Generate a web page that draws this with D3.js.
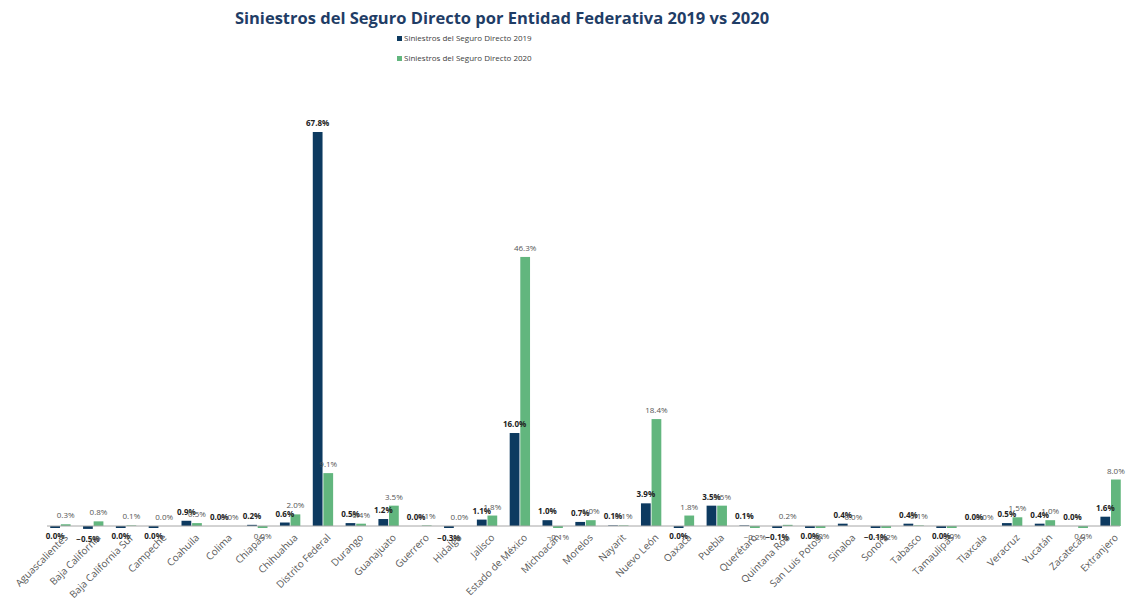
<!DOCTYPE html>
<html>
<head>
<meta charset="utf-8">
<script src="https://cdn.jsdelivr.net/npm/d3@7"></script>
<style>
  body { margin: 0; background: #fff; }
  text { font-family: "Open Sans", "DejaVu Sans", sans-serif; }
</style>
</head>
<body>
<script>
var width = 1127;
var height = 599;

var categories = ['Aguascalientes', 'Baja California', 'Baja California Sur', 'Campeche', 'Coahuila',
  'Colima', 'Chiapas', 'Chihuahua', 'Distrito Federal', 'Durango', 'Guanajuato', 'Guerrero',
  'Hidalgo', 'Jalisco', 'Estado de México', 'Michoacán', 'Morelos', 'Nayarit', 'Nuevo León',
  'Oaxaca', 'Puebla', 'Querétaro', 'Quintana Roo', 'San Luis Potosí', 'Sinaloa', 'Sonora',
  'Tabasco', 'Tamaulipas', 'Tlaxcala', 'Veracruz', 'Yucatán', 'Zacatecas', 'Extranjero'];

// percentages
var values2019 = [-0.04, -0.5, -0.04, -0.04, 0.9, 0.0, 0.2, 0.6, 67.8, 0.5, 1.2, 0.0,
  -0.3, 1.1, 16.0, 1.0, 0.7, 0.1, 3.9, -0.04, 3.5, 0.1, -0.1, -0.04, 0.4, -0.1,
  0.4, -0.04, 0.0, 0.5, 0.4, 0.0, 1.6];
var values2020 = [0.3, 0.8, 0.1, 0.0, 0.5, 0.0, -0.04, 2.0, 9.1, 0.4, 3.5, 0.1,
  0.0, 1.8, 46.3, -0.1, 1.0, 0.1, 18.4, 1.8, 3.5, -0.2, 0.2, -0.04, 0.0, -0.2,
  0.1, -0.04, 0.0, 1.5, 1.0, -0.04, 8.0];

var seriesNames = ['Siniestros del Seguro Directo 2019', 'Siniestros del Seguro Directo 2020'];
var colors = ['#0d3a60', '#62b67e'];

var svg = d3.select('body').append('svg').attr('width', width).attr('height', height);

var x = d3.scaleBand().domain(categories).range([44, 1127]).paddingInner(0.38).paddingOuter(0.19);
var x1 = d3.scaleBand().domain([0, 1]).range([0, x.bandwidth()]).paddingInner(0.08);
var y = d3.scaleLinear().domain([0, 67.8]).range([526, 132]);

var fmt = function(v) {
  var s = d3.format('.1f')(v);
  if (s === '-0.0') s = '0.0';
  return s + '%';
};

// title
svg.append('text')
  .attr('x', 502).attr('y', 24)
  .attr('text-anchor', 'middle')
  .attr('font-size', 16.5).attr('font-weight', 'bold')
  .attr('fill', '#1f3d66')
  .text('Siniestros del Seguro Directo por Entidad Federativa 2019 vs 2020');

// legend
seriesNames.forEach(function(name, i) {
  var ly = 41 + i * 20;
  svg.append('rect').attr('x', 397).attr('y', ly - 5).attr('width', 5).attr('height', 5).attr('fill', colors[i]);
  svg.append('text').attr('x', 404).attr('y', ly).attr('font-size', 8).attr('fill', '#404040').text(name);
});

var series = [values2019, values2020];

// bars
series.forEach(function(vals, si) {
  svg.append('g').selectAll('rect').data(vals).enter().append('rect')
    .attr('x', function(d, i) { return x(categories[i]) + x1(si); })
    .attr('y', function(d) { return d >= 0 ? y(d) : y(0); })
    .attr('width', x1.bandwidth())
    .attr('height', function(d) { return Math.max(Math.abs(y(d) - y(0)), d < 0 ? 2 : 0); })
    .attr('fill', colors[si]);
});

// axis line
svg.append('line')
  .attr('x1', 47).attr('x2', 1120)
  .attr('y1', y(0)).attr('y2', y(0))
  .attr('stroke', '#a6a6a6').attr('stroke-width', 1);

// data labels
series.forEach(function(vals, si) {
  svg.append('g').selectAll('text').data(vals).enter().append('text')
    .attr('x', function(d, i) { return x(categories[i]) + x1(si) + x1.bandwidth() / 2; })
    .attr('y', function(d) { return d >= 0 ? y(d) - 6 : y(d) + 13; })
    .attr('text-anchor', 'middle')
    .attr('font-size', 8)
    .attr('fill', si === 0 ? '#222' : '#555')
    .attr('font-weight', si === 0 ? 'bold' : 'normal')
    .text(fmt);
});

// category labels
var xAxis = svg.append('g').attr('transform', 'translate(0,' + (y(0) + 8) + ')');
xAxis.selectAll('text').data(categories).enter().append('text')
  .attr('transform', function(d) {
    return 'translate(' + (x(d) + x.bandwidth() / 2 + 4) + ',0) rotate(-45)';
  })
  .attr('text-anchor', 'end')
  .attr('dy', '0.6em')
  .attr('font-size', 10)
  .attr('fill', '#595959')
  .text(function(d) { return d; });
</script>
</body>
</html>
